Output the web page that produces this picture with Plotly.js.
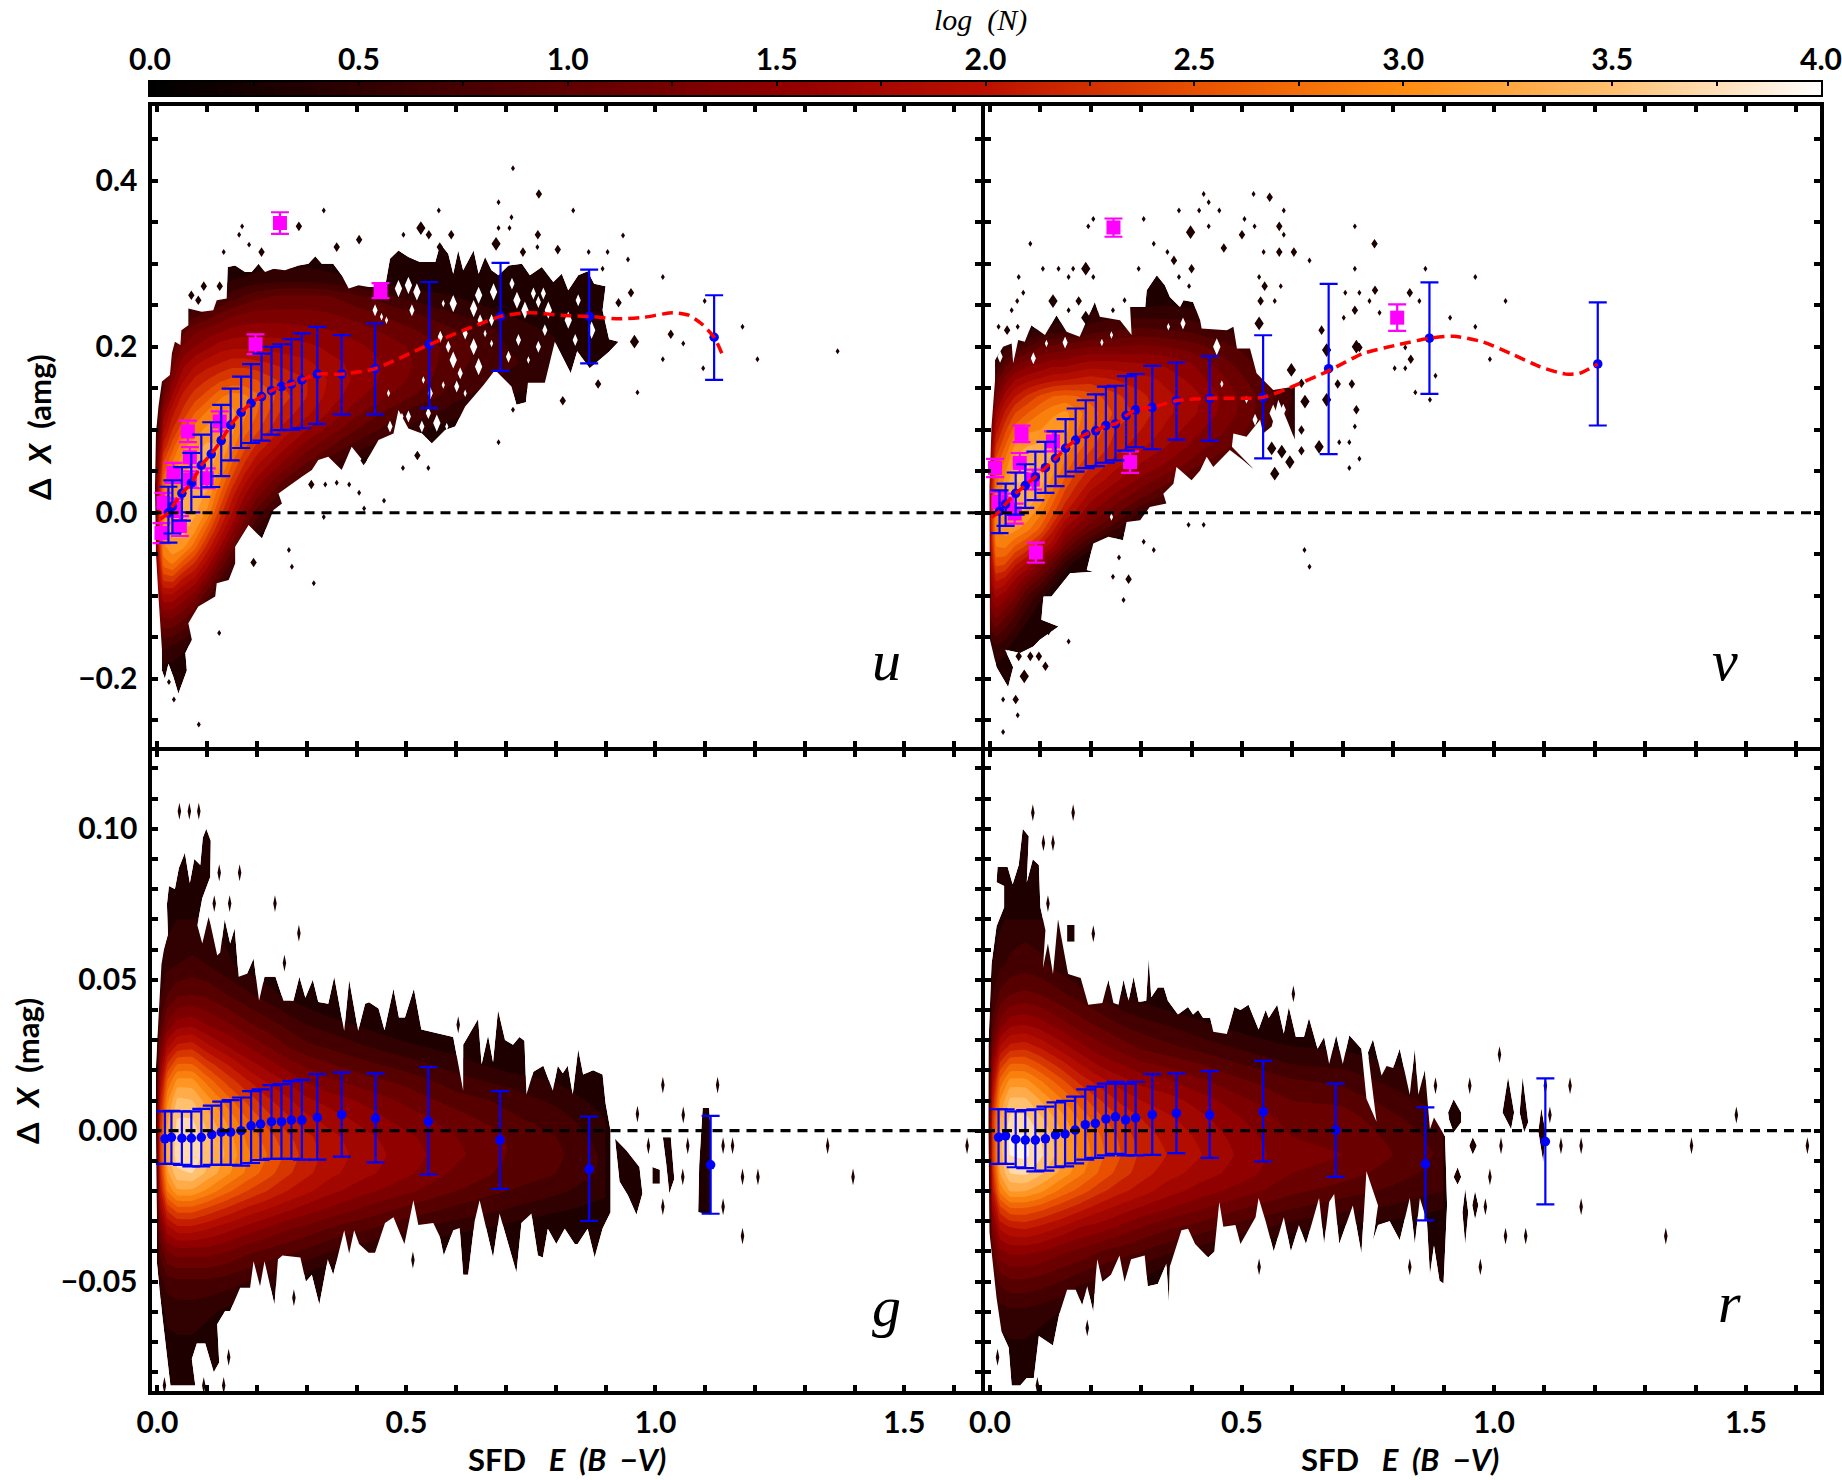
<!DOCTYPE html>
<html><head><meta charset="utf-8">
<script src="https://cdn.plot.ly/plotly-3.0.1.min.js"></script>
<style>html,body{margin:0;padding:0;background:#fff}</style></head><body>
<div id="chart" style="width:1842px;height:1480px"></div>
<script>
// ---------- binned medians with dispersion ----------
var uBinX=[.022,.030,.049,.068,.088,.108,.128,.147,.168,.188,.209,.229,.249,.269,.29,.321,.37,.437,.546,.689,.867,1.118];
var uBinY=[0,.0076,.0234,.0356,.0572,.0707,.087,.1057,.1209,.132,.140,.147,.152,.155,.160,.167,.167,.1735,.2026,.2365,.2365,.2114];
var uBinTop=[.0313,.039,.055,.072,.094,.109,.130,.1495,.164,.179,.1916,.200,.203,.209,.216,.224,.214,.228,.278,.301,.293,.262];
var uBinBot=[-.036,-.025,-.0096,.0004,.019,.031,.044,.063,.078,.084,.087,.094,.0996,.100,.102,.107,.1186,.1186,.126,.171,.180,.160];
var vBinX=[.019,.031,.051,.070,.090,.110,.130,.15,.17,.19,.21,.23,.249,.27,.289,.322,.370,.436,.542,.672,.872,1.206];
var vBinY=[.0018,.0105,.0234,.0327,.0432,.0543,.0654,.0777,.0876,.0946,.0987,.105,.107,.117,.124,.127,.135,.138,.139,.1735,.2103,.1793];
var vBinTop=[.0269,.035,.0485,.0584,.0736,.0853,.098,.1127,.1256,.1355,.1425,.1519,.153,.1647,.167,.177,.181,.1887,.2138,.2757,.2775,.2535];
var vBinBot=[-.0245,-.0158,-.0023,.0058,.0152,.024,.0321,.0438,.0496,.0537,.0561,.0602,.0631,.0748,.0789,.0765,.0882,.087,.0654,.0707,.1431,.1051];
var gBinX=[.015,.028,.049,.068,.088,.109,.128,.147,.168,.188,.207,.229,.249,.269,.29,.321,.37,.438,.544,.688,.867,1.111];
var gBinY=[-.0027,-.0022,-.0025,-.0025,-.0022,-.0013,-.0005,-.0005,0,.0016,.0022,.003,.003,.0035,.0035,.0044,.0053,.0041,.0031,-.0031,-.0127,-.0113];
var gBinTop=[.0064,.0066,.0064,.0064,.0072,.0083,.0096,.0101,.011,.0131,.0137,.0151,.0154,.0164,.0168,.0187,.0193,.019,.0211,.0131,.0047,.0049];
var gBinBot=[-.011,-.011,-.0113,-.0118,-.0118,-.0113,-.0113,-.0113,-.0116,-.0107,-.0097,-.0093,-.0093,-.0093,-.0096,-.0096,-.0086,-.0105,-.0145,-.0193,-.0299,-.0275];
var rBinX=[.017,.031,.051,.07,.09,.11,.13,.149,.169,.189,.209,.23,.249,.269,.289,.322,.37,.436,.542,.686,.864,1.102];
var rBinY=[-.0022,-.0017,-.0028,-.0031,-.0031,-.0027,-.0014,-.0011,.0002,.002,.0024,.0039,.0046,.0036,.0042,.0053,.0058,.0052,.0063,.0002,-.011,-.0036];
var rBinTop=[.0071,.0071,.0064,.0068,.0071,.008,.0094,.0099,.0113,.0137,.0146,.0156,.0162,.0156,.0162,.0187,.019,.0197,.0231,.0156,.0077,.0173];
var rBinBot=[-.011,-.011,-.0121,-.0124,-.0135,-.0132,-.0121,-.0118,-.0108,-.0096,-.009,-.0082,-.0077,-.0082,-.0082,-.008,-.0074,-.009,-.0102,-.0153,-.0297,-.0244];
// ---------- fitted curves ----------
var uFitX=[.005,.022,.03,.049,.068,.088,.108,.128,.147,.168,.188,.209,.229,.249,.269,.29,.321,.37,.437,.546,.689,.747,.81,.867,.926,.977,1.035,1.067,1.092,1.118,1.137];
var uFitY=[-.008,0,.0076,.0234,.0356,.0572,.0707,.087,.1057,.1209,.132,.140,.147,.152,.155,.160,.167,.167,.1735,.2026,.2365,.241,.238,.2365,.2336,.2354,.241,.238,.228,.2114,.187];
var vFitX=[.003,.019,.031,.051,.07,.09,.11,.13,.15,.17,.19,.21,.23,.249,.27,.289,.322,.37,.436,.542,.602,.672,.739,.807,.872,.92,.977,1.034,1.091,1.142,1.17,1.206];
var vFitY=[-.006,.0018,.0105,.0234,.0327,.0432,.0543,.0654,.0777,.0876,.0946,.0987,.105,.107,.117,.124,.127,.135,.138,.139,.1525,.171,.1916,.202,.2103,.2126,.206,.1916,.176,.167,.168,.1793];
// ---------- star clusters (x, y, error) ----------
var uStars=[[.246,.349,.013],[.448,.2675,.009],[.197,.203,.012],[.061,.098,.013],[.125,.110,.012],[.065,.067,.012],[.032,.048,.012],[.099,.0415,.012],[.065,.040,.01],[.012,.012,.012],[.035,.006,.011],[.045,-.016,.012],[.008,-.0245,.012]];
var vStars=[[.245,.3435,.011],[.808,.235,.016],[.278,.061,.013],[.0625,.095,.01],[.091,-.048,.012],[.010,.054,.011],[.125,.086,.012],[.059,.060,.012],[.085,.040,.012],[.017,.013,.012],[.049,-.001,.012],[.034,.011,.012]];
// ---------- outermost density contour ----------
var uEdge=[[-.003,-.049],[-.005,.031],[-.003,.096],[.002,.128],[.009,.158],[.025,.166],[.029,.192],[.035,.206],[.046,.202],[.048,.220],[.062,.226],[.062,.246],[.089,.242],[.112,.244],[.119,.256],[.139,.258],[.141,.296],[.156,.298],[.176,.290],[.189,.290],[.203,.300],[.216,.290],[.233,.294],[.256,.292],[.283,.298],[.303,.300],[.317,.309],[.330,.300],[.353,.300],[.370,.286],[.384,.270],[.404,.274],[.424,.272],[.457,.272],[.467,.306],[.484,.316],[.504,.308],[.527,.302],[.558,.302],[.568,.324],[.584,.312],[.594,.288],[.604,.316],[.614,.292],[.635,.316],[.645,.288],[.658,.308],[.671,.292],[.685,.286],[.705,.298],[.732,.300],[.748,.286],[.772,.296],[.795,.278],[.812,.288],[.825,.268],[.845,.286],[.864,.291],[.877,.276],[.900,.273],[.894,.244],[.907,.209],[.926,.206],[.907,.194],[.868,.174],[.843,.1945],[.830,.168],[.798,.206],[.778,.1565],[.744,.1565],[.740,.133],[.721,.130],[.711,.152],[.678,.172],[.655,.154],[.618,.128],[.598,.104],[.578,.0996],[.551,.0835],[.531,.0956],[.504,.1016],[.484,.1237],[.474,.0956],[.444,.0876],[.417,.0594],[.390,.0795],[.370,.0514],[.343,.0675],[.323,.0635],[.31,.0514],[.29,.0434],[.256,.0293],[.243,.0233],[.25,.0112],[.233,.0032],[.21,-.031],[.183,-.0149],[.156,-.041],[.156,-.061],[.143,-.081],[.119,-.085],[.116,-.101],[.082,-.113],[.062,-.133],[.069,-.153],[.056,-.169],[.059,-.19],[.042,-.218],[.032,-.198],[.022,-.182],[.015,-.20],[.009,-.19],[.009,-.165],[.002,-.101]];
var vEdge=[[0,-.153],[-.001,-.049],[-.001,.031],[.003,.104],[.01,.16],[.01,.184],[.026,.2],[.043,.204],[.046,.18],[.056,.208],[.069,.206],[.082,.226],[.109,.214],[.132,.238],[.152,.218],[.178,.212],[.208,.254],[.218,.236],[.258,.232],[.281,.214],[.278,.248],[.308,.248],[.311,.268],[.331,.286],[.347,.274],[.357,.26],[.377,.248],[.384,.256],[.403,.254],[.417,.232],[.42,.222],[.47,.22],[.483,.224],[.49,.198],[.516,.198],[.529,.168],[.562,.148],[.605,.152],[.605,.0876],[.589,.112],[.572,.136],[.559,.104],[.542,.0956],[.536,.112],[.509,.0916],[.483,.0956],[.48,.0795],[.526,.051],[.503,.063],[.476,.0755],[.443,.055],[.43,.0675],[.417,.051],[.40,.039],[.37,.055],[.364,.035],[.344,.023],[.35,.011],[.317,.007],[.298,-.009],[.271,-.011],[.264,-.033],[.235,-.029],[.205,-.037],[.192,-.069],[.205,-.071],[.159,-.073],[.122,-.101],[.106,-.101],[.102,-.129],[.136,-.137],[.099,-.153],[.086,-.161],[.06,-.169],[.03,-.165],[.046,-.186],[.036,-.21],[.013,-.186],[.007,-.169]];
var gEdge=[[-.003,0],[-.003,.021],[-.001,.028],[.008,.055],[.013,.060],[.021,.065],[.019,.075],[.023,.081],[.035,.080],[.043,.087],[.055,.092],[.065,.082],[.074,.090],[.086,.088],[.091,.097],[.098,.100],[.107,.096],[.106,.084],[.090,.077],[.080,.068],[.090,.062],[.103,.071],[.120,.058],[.126,.059],[.135,.070],[.146,.062],[.155,.067],[.163,.051],[.180,.052],[.193,.057],[.204,.043],[.215,.051],[.237,.051],[.253,.043],[.273,.043],[.285,.051],[.297,.044],[.312,.050],[.323,.0426],[.343,.042],[.355,.051],[.375,.033],[.385,.050],[.403,.033],[.417,.042],[.425,.0425],[.444,.0405],[.456,.0333],[.474,.047],[.485,.0375],[.497,.0375],[.515,.047],[.530,.0335],[.594,.031],[.614,.0132],[.614,.0285],[.644,.037],[.651,.022],[.664,.0315],[.674,.0227],[.684,.040],[.698,.030],[.714,.0285],[.727,.031],[.737,.0298],[.741,.012],[.755,.0195],[.775,.0215],[.794,.0132],[.804,.0215],[.814,.019],[.824,.0215],[.834,.012],[.845,.027],[.855,.0186],[.875,.020],[.894,.0186],[.90,.0091],[.91,0],[.91,-.027],[.894,-.0324],[.878,-.042],[.864,-.0325],[.844,-.0375],[.838,-.0375],[.818,-.0325],[.801,-.0375],[.784,-.0325],[.774,-.042],[.764,-.0413],[.751,-.0274],[.731,-.0306],[.721,-.047],[.687,-.0274],[.674,-.042],[.647,-.023],[.637,-.030],[.624,-.0477],[.614,-.0477],[.607,-.0322],[.594,-.033],[.575,-.0413],[.567,-.035],[.554,-.0306],[.524,-.0312],[.514,-.023],[.496,-.0375],[.474,-.0287],[.457,-.0306],[.437,-.0404],[.424,-.0404],[.405,-.0375],[.395,-.033],[.385,-.0407],[.375,-.033],[.353,-.0477],[.342,-.0426],[.325,-.0576],[.310,-.0477],[.298,-.050],[.287,-.042],[.251,-.0413],[.242,-.0426],[.235,-.0576],[.215,-.0432],[.206,-.0515],[.193,-.0432],[.186,-.052],[.166,-.052],[.146,-.0597],[.136,-.0597],[.120,-.0641],[.124,-.0768],[.113,-.080],[.096,-.0705],[.079,-.0705],[.069,-.0756],[.076,-.0844],[.026,-.0844],[.009,-.0603],[-.001,-.0439],[-.001,-.030],
null,[.919,-.0027],[.942,-.0066],[.968,-.012],[.974,-.0208],[.962,-.0278],[.945,-.0215],[.928,-.0168],
null,[.994,-.012],[1.009,-.0129],[1.009,-.0176],[.994,-.0176],
null,[1.015,-.0022],[1.031,-.0022],[1.038,-.016],[1.028,-.0208],[1.022,-.0113],
null,[1.095,.0075],[1.108,.0075],[1.111,-.0003],[1.111,-.0278],[1.086,-.027],[1.088,-.0113]];
var rEdge=[[-.003,0],[-.003,.0284],[.003,.055],[.013,.0677],[.028,.074],[.028,.081],[.013,.0823],[.015,.0873],[.035,.0873],[.045,.0816],[.057,.088],[.065,.100],[.077,.0975],[.073,.0823],[.085,.0899],[.097,.088],[.10,.074],[.11,.0664],[.105,.0538],[.115,.062],[.125,.0519],[.135,.07],[.155,.0519],[.18,.0506],[.195,.0417],[.223,.0423],[.235,.05],[.245,.0423],[.255,.0417],[.265,.05],[.275,.043],[.285,.051],[.295,.0426],[.31,.043],[.315,.057],[.32,.0442],[.333,.0474],[.345,.0474],[.353,.043],[.373,.0385],[.393,.041],[.403,.0385],[.413,.04],[.423,.0373],[.437,.0373],[.443,.0328],[.47,.032],[.485,.041],[.497,.04],[.513,.0417],[.533,.0335],[.547,.04],[.553,.0373],[.57,.0417],[.583,.0322],[.593,.041],[.607,.031],[.623,.031],[.633,.0373],[.65,.0271],[.663,.031],[.673,.0221],[.687,.0316],[.70,.0221],[.713,.0316],[.737,.0271],[.747,.0106],[.767,.003],[.75,.0259],[.76,.0303],[.777,.0183],[.787,.0214],[.80,.0208],[.813,.0271],[.833,.0119],[.843,.0271],[.85,.0119],[.863,.0202],[.873,.0005],[.881,.0044],[.903,-.0019],[.907,-.0247],[.9,-.0506],[.892,-.0497],[.881,-.038],[.873,-.0477],[.867,-.03],[.853,-.0223],[.843,-.0375],[.833,-.0223],[.813,-.0363],[.793,-.03],[.77,-.0312],[.76,-.0363],[.77,-.0248],[.747,-.0134],[.737,-.0407],[.72,-.0248],[.693,-.0375],[.683,-.021],[.673,-.0236],[.663,-.0375],[.653,-.0223],[.627,-.0375],[.613,-.0312],[.597,-.04],[.583,-.0287],[.563,-.04],[.547,-.03],[.533,-.0223],[.527,-.0287],[.497,-.0375],[.487,-.0312],[.463,-.0318],[.455,-.0236],[.445,-.04],[.433,-.042],[.407,-.0375],[.393,-.0325],[.38,-.033],[.357,-.045],[.355,-.057],[.35,-.044],[.333,-.0508],[.313,-.0515],[.307,-.0413],[.28,-.0426],[.267,-.05],[.257,-.0413],[.24,-.0477],[.223,-.05],[.213,-.0426],[.21,-.0477],[.205,-.06],[.193,-.0515],[.183,-.0578],[.17,-.0527],[.153,-.0527],[.137,-.061],[.125,-.0711],[.097,-.068],[.087,-.0819],[.073,-.0819],[.06,-.0844],[.043,-.0844],[.037,-.0718],[.023,-.0667],[.013,-.0553],[-.001,-.0337],
null,[.153,.0681],[.168,.0681],[.168,.0626],[.153,.0626],
null,[.909,.006],[.92,.0104],[.935,.006],[.935,.0028],[.92,-.0006],[.911,.0036],
null,[.951,-.005],[.958,-.0022],[.966,-.005],[.958,-.0079],
null,[.92,-.0153],[.928,-.0121],[.935,-.0153],[.928,-.0179],
null,[.9375,-.027],[.943,-.0192],[.949,-.027],[.943,-.0377],
null,[.957,-.0247],[.9625,-.02],[.969,-.0247],[.9625,-.0294],
null,[1.017,.006],[1.028,.0178],[1.04,.006],[1.034,.0005],
null,[1.051,.006],[1.057,.0178],[1.068,.0028],[1.06,-.0006],
null,[1.088,-.0003],[1.094,.0075],[1.102,-.0003],[1.098,-.0105]];
// ---------- isolated low-count cells (x, y, cell multiple) ----------
var uSpecks=[[.082,.256,2],[.068,.262,2],[.714,.415,1],[.766,.384,2],[.685,.374,1],[.835,.364,1],[.711,.356,1],[.685,.343,1],[.707,.343,1],[.764,.335,2],[.935,.334,1],[.680,.324,3],[.763,.320,1],[.734,.314,2],[.804,.317,2],[.866,.314,1],[.904,.314,1],[.945,.305,1],[.894,.294,1],[.334,.364,1],[.284,.345,2],[.170,.345,1],[.164,.335,1],[.184,.323,1],[.133,.314,1],[.209,.314,2],[.093,.273,2],[.125,.273,2],[.36,.32,2],[.405,.329,2],[.494,.335,1],[.529,.343,3],[.565,.364,1],[.545,.335,2],[.59,.335,2],[.567,.32,2],[1.015,.284,1],[.951,.265,2],[.926,.253,2],[1.099,.255,1],[1.175,.224,1],[1.366,.1945,1],[1.031,.215,2],[1.056,.204,1],[1.015,.185,1],[1.096,.174,1],[1.205,.185,1],[.964,.145,1],[.885,.155,2],[.814,.135,2],[.714,.124,1],[.685,.085,1],[.958,.206,3],[.493,.054,1],[.544,.054,1],[.522,.069,2],[.414,.063,2],[.385,.034,1],[.36,.036,1],[.337,.034,1],[.309,.034,2],[.405,.024,1],[.455,.0146,1],[.415,.005,1],[.334,-.005,1],[.264,-.045,1],[.27,-.065,1],[.314,-.085,1],[.193,-.06,2],[.124,-.145,1],[.083,-.255,1],[.033,-.225,1],[.023,-.204,1]];
var vSpecks=[[.424,.384,1],[.434,.374,1],[.523,.384,1],[.555,.38,2],[.415,.364,1],[.455,.364,1],[.375,.364,1],[.583,.364,1],[.505,.354,1],[.525,.345,1],[.434,.345,1],[.574,.345,2],[.583,.335,1],[.398,.338,3],[.5,.335,2],[.724,.345,1],[.763,.324,2],[.08,.324,1],[.464,.319,2],[.574,.314,2],[.603,.314,2],[.325,.324,1],[.352,.314,1],[.543,.314,1],[.365,.304,2],[.634,.304,1],[.305,.354,1],[.205,.354,1],[.195,.345,1],[.4,.294,2],[.295,.294,1],[.19,.294,3],[.165,.294,1],[.136,.294,1],[.105,.294,1],[.057,.284,1],[.156,.284,1],[.205,.284,1],[.375,.284,1],[.395,.273,1],[.724,.294,1],[.864,.294,1],[.963,.284,1],[.534,.284,1],[.545,.273,2],[.577,.273,1],[.066,.265,1],[.054,.255,1],[.043,.244,1],[.125,.255,3],[.176,.255,2],[.156,.244,1],[.19,.235,3],[.244,.244,1],[.267,.256,1],[.537,.255,2],[.565,.255,1],[.705,.265,1],[.733,.265,1],[.764,.268,2],[.753,.255,1],[.833,.265,2],[.852,.255,1],[1.023,.255,1],[.773,.241,1],[.724,.244,2],[.913,.235,1],[.963,.224,1],[.534,.228,3],[.702,.235,1],[.017,.224,1],[.034,.22,2],[.055,.224,1],[.733,.199,2],[.824,.199,1],[.992,.185,1],[.835,.185,2],[.803,.174,1],[.824,.174,1],[.884,.165,1],[.844,.145,1],[.873,.136,1],[.69,.155,2],[.718,.155,2],[.727,.124,2],[.724,.104,1],[.693,.085,1],[.713,.085,1],[.733,.065,1],[.713,.054,1],[.624,-.045,1],[.634,-.065,1],[.394,-.0146,1],[.424,-.0146,1],[.305,-.035,1],[.325,-.045,1],[.256,-.054,1],[.244,-.077,1],[.275,-.08,2],[.265,-.105,1],[.156,-.155,1],[.116,-.144,1],[.057,-.173,2],[.08,-.173,2],[.097,-.173,2],[.11,-.185,2],[.068,-.197,3],[.026,-.225,1],[.051,-.225,2],[.055,-.244,1],[.026,-.264,1],[.618,.0996,2],[.625,.134,3],[.618,.156,2],[.598,.172,3],[.559,.0775,3],[.579,.0735,3],[.618,.0747,2],[.595,.061,3],[.565,.047,3],[.653,.0795,3],[.668,.136,3],[.668,.196,3],[.727,.2,3],[.658,.22,2]];
var gSpecks=[[.044,.1058],[.064,.1058],[.083,.1058],[.124,.0854],[.165,.0854],[.114,.0752],[.145,.0752],[.236,.0752],[.284,.0654],[.255,.0555],[.604,.0351],[1.015,.0151],[1.125,.0151],[.964,.0055],[1.056,.0052],[.986,-.005],[1.065,-.005],[1.136,-.005],[1.155,-.005],[1.346,-.005],[1.626,-.005],[1.055,-.0153],[1.175,-.0153],[1.206,-.0153],[1.397,-.0153],[1.015,-.0252],[1.136,-.0252],[1.175,-.0349],[.513,-.0428],[.274,-.0553],[.143,-.075],[.014,-.0844],[.093,-.0844],[.133,-.0844]];
var rSpecks=[[.085,.1053],[.165,.1053],[.106,.0953],[.125,.0953],[.115,.0752],[.205,.0652],[.602,.0453],[1.011,.0252],[.952,.0149],[.884,.0149],[1.151,.0149],[1.102,.0149],[1.111,.0052],[1.481,.0052],[1.014,-.005],[1.133,-.005],[1.173,-.005],[1.392,-.005],[1.622,-.005],[.992,-.0153],[.983,-.0252],[1.173,-.0252],[1.341,-.0349],[1.023,-.0349],[1.063,-.0349],[.534,-.0451],[.833,-.0451],[.973,-.0451],[.193,-.0653],[.015,-.075],[.094,-.0844]];
// ---------- empty cells inside the outer contour ----------
var uGaps=[[.504,.274,3],[.484,.27,3],[.521,.266,3],[.511,.244,2],[.437,.244,2],[.45,.236,1],[.46,.232,1],[.464,.144,1],[.467,.104,2],[.574,.252,1],[.594,.252,3],[.645,.262,3],[.675,.266,3],[.635,.246,3],[.648,.232,2],[.671,.232,2],[.712,.276,2],[.722,.256,3],[.755,.264,2],[.775,.264,2],[.765,.254,2],[.738,.244,3],[.785,.244,3],[.825,.232,3],[.778,.22,2],[.845,.256,2],[.872,.22,3],[.839,.208,2],[.618,.216,2],[.568,.212,2],[.584,.2,2],[.594,.184,3],[.608,.168,2],[.658,.216,1],[.635,.2,3],[.671,.204,1],[.725,.208,2],[.705,.188,2],[.765,.2,2],[.745,.184,1],[.645,.176,3],[.618,.144,1],[.601,.152,2],[.574,.154,1],[.534,.16,1],[.548,.144,2],[.544,.12,2],[.561,.108,3],[.581,.104,1],[.531,.104,2],[.504,.116,2],[.491,.116,1]];
var vGaps=[[.45,.2,3],[.383,.228,2],[.354,.224,1],[.241,.214,1],[.112,.204,1],[.149,.205,2],[.222,.205,1],[.086,.186,2],[.02,.188,2],[.562,.12,3],[.582,.124,2],[.509,.136,1],[.46,.155,1],[.241,-.005,1],[.526,.112,2]];
// ---------- density surfaces, log N ----------
var bandColX=[-.01,.003,.012,.03,.05,.075,.1,.125,.15,.175,.2,.25,.3,.35,.4,.5,.6,.7,.8];
var bandRowY=[.30,.28,.26,.24,.22,.20,.18,.16,.14,.12,.10,.08,.06,.04,.02,0,-.02,-.04,-.06,-.08,-.10,-.13,-.16,-.20];
var uDensity=[
[0,0,0,0,0,0,0,0,.1,.2,.3,.35,.35,.3,.2,.1,0,0,0],
[0,0,0,0,0,.1,.2,.3,.4,.45,.5,.55,.55,.5,.4,.3,.2,.1,0],
[0,0,0,0,.2,.4,.45,.55,.7,.85,.95,1.05,1.05,1,.85,.55,.4,.2,0],
[0,0,0,.2,.5,.7,.85,1,1.15,1.2,1.25,1.25,1.25,1.2,1.1,.85,.6,.4,.2],
[0,0,.2,.5,.9,1.15,1.25,1.35,1.45,1.5,1.5,1.5,1.45,1.4,1.3,1.05,.8,.55,.35],
[0,0,.4,.85,1.2,1.4,1.55,1.7,1.75,1.75,1.75,1.7,1.65,1.55,1.45,1.2,.9,.6,.45],
[0,.1,.5,1.1,1.5,1.75,1.9,2,2.1,2.1,2.05,1.95,1.85,1.65,1.55,1.25,.85,.65,.45],
[0,.3,.8,1.35,1.75,2.05,2.2,2.35,2.45,2.45,2.4,2.15,2,1.75,1.55,1.2,.8,.55,.4],
[0,.5,1.1,1.65,2.05,2.3,2.5,2.75,2.9,2.85,2.65,2.3,2,1.7,1.45,1.05,.65,.4,.2],
[0,.8,1.5,1.95,2.25,2.6,2.85,3,3.05,2.85,2.6,2.15,1.85,1.55,1.25,.75,.5,.25,0],
[0,1,1.75,2.2,2.55,2.9,3.05,3.15,3.05,2.7,2.45,1.95,1.6,1.3,1,.55,.2,0,0],
[0,1.3,2.05,2.5,2.95,3.1,3.25,3.2,2.9,2.45,2.15,1.7,1.3,1,.7,.3,0,0,0],
[0,1.6,2.4,2.8,3.1,3.25,3.3,3.1,2.6,2.2,1.85,1.4,1,.65,.35,0,0,0,0],
[0,1.85,2.65,3,3.2,3.3,3.3,2.85,2.35,1.9,1.55,1.05,.65,.3,0,0,0,0,0],
[0,2,2.85,3.1,3.3,3.3,3.15,2.6,2.05,1.6,1.25,.7,.3,0,0,0,0,0,0],
[0,2.1,2.95,3.2,3.35,3.25,2.95,2.3,1.8,1.3,.9,.35,0,0,0,0,0,0,0],
[0,2.1,3,3.25,3.3,3.05,2.55,2,1.5,1,.55,.1,0,0,0,0,0,0,0],
[0,2.1,2.95,3.15,3.1,2.7,2.15,1.65,1.1,.65,.2,0,0,0,0,0,0,0,0],
[0,1.9,2.7,2.85,2.55,2.2,1.75,1.2,.75,.3,0,0,0,0,0,0,0,0,0],
[0,1.7,2.25,2.3,2,1.75,1.3,.8,.4,0,0,0,0,0,0,0,0,0,0],
[0,1.45,1.75,1.75,1.55,1.3,.85,.5,.1,0,0,0,0,0,0,0,0,0,0],
[0,1,1.15,1.15,1,.75,.4,.1,0,0,0,0,0,0,0,0,0,0,0],
[0,.5,.65,.6,.5,.3,.1,0,0,0,0,0,0,0,0,0,0,0,0],
[0,.1,.2,.2,.1,0,0,0,0,0,0,0,0,0,0,0,0,0,0]];
var vDensity=[
[0,0,0,0,0,0,0,0,0,0,0,0,0,0,0,0,0,0,0],
[0,0,0,0,0,0,0,0,0,0,0,.1,.1,.1,.1,0,0,0,0],
[0,0,0,0,0,0,0,0,0,0,0,.2,.2,.3,.2,0,0,0,0],
[0,0,0,0,0,0,.1,.2,.3,.4,.45,.5,.5,.5,.5,.3,0,0,0],
[0,0,0,.2,.3,.4,.45,.5,.55,.55,.7,.8,.85,.8,.75,.5,.2,0,0],
[0,0,.2,.5,.6,.8,1,1.05,1.1,1.15,1.2,1.2,1.25,1.2,1.1,.75,.3,0,0],
[0,.1,.5,.9,1.15,1.3,1.4,1.5,1.5,1.6,1.65,1.65,1.6,1.55,1.4,.9,.45,0,0],
[0,.3,.9,1.3,1.6,1.75,1.85,1.95,2,2.05,2.1,2,1.9,1.75,1.55,1.05,.5,0,0],
[0,.6,1.2,1.7,2,2.25,2.45,2.6,2.65,2.6,2.5,2.25,2.05,1.85,1.7,1.15,.6,0,0],
[0,.9,1.6,2.05,2.4,2.6,2.8,2.95,3.05,2.85,2.7,2.35,2.1,1.85,1.65,1.15,.55,0,0],
[0,1.2,1.9,2.35,2.7,2.95,3,3.15,3.05,2.8,2.6,2.2,2,1.75,1.5,1.05,.45,0,0],
[0,1.5,2.2,2.6,3.05,3.2,3.25,3.25,2.95,2.7,2.45,2.1,1.85,1.6,1.35,.9,.3,0,0],
[0,1.75,2.5,2.85,3.3,3.4,3.35,3.1,2.75,2.45,2.25,1.9,1.6,1.4,1.15,.6,.1,0,0],
[0,1.95,2.7,3.05,3.4,3.45,3.3,2.95,2.55,2.25,2,1.65,1.35,1.1,.75,.3,0,0,0],
[0,2.1,2.85,3.2,3.35,3.35,3.15,2.7,2.3,2,1.7,1.35,1.05,.75,.4,0,0,0,0],
[0,2.2,2.95,3.2,3.2,3.15,2.85,2.45,2,1.7,1.4,1.05,.6,.3,.1,0,0,0,0],
[0,2.15,2.95,3.1,3.05,2.85,2.55,2.05,1.55,1.3,1.05,.6,.2,0,0,0,0,0,0],
[0,2.05,2.8,2.85,2.6,2.35,2,1.65,1.15,.8,.5,.2,0,0,0,0,0,0,0],
[0,1.85,2.5,2.45,2.1,1.8,1.4,1.05,.6,.3,.1,0,0,0,0,0,0,0,0],
[0,1.65,2.05,1.95,1.6,1.25,.95,.55,.2,0,0,0,0,0,0,0,0,0,0],
[0,1.45,1.65,1.5,1.25,.8,.5,.2,0,0,0,0,0,0,0,0,0,0,0],
[0,1,1.15,.95,.7,.4,.1,0,0,0,0,0,0,0,0,0,0,0,0],
[0,.5,.6,.5,.3,.1,0,0,0,0,0,0,0,0,0,0,0,0,0],
[0,.1,.2,.2,.1,0,0,0,0,0,0,0,0,0,0,0,0,0,0]];
var lowColX=[-.005,.005,.02,.04,.07,.10,.14,.18,.22,.26,.30,.35,.42,.5,.6,.7,.8,.9];
var lowRowY=[.07,.055,.045,.035,.028,.022,.016,.01,.004,-.002,-.008,-.014,-.02,-.026,-.032,-.04,-.05,-.06,-.075];
var gDensity=[
[0,.2,.3,.4,.4,.4,.3,.2,.1,0,0,0,0,0,0,0,0,0],
[0,.4,.55,.6,.65,.6,.45,.3,.2,.1,0,0,0,0,0,0,0,0],
[0,.55,.8,.95,1,.95,.8,.65,.5,.35,.25,.1,0,0,0,0,0,0],
[0,.8,1.25,1.5,1.55,1.4,1.25,1.05,.9,.75,.6,.5,.35,.2,0,0,0,0],
[0,1.1,1.75,2.05,2.1,1.85,1.6,1.4,1.2,1,.85,.75,.6,.45,.3,.1,0,0],
[0,1.4,2.2,2.6,2.6,2.3,2,1.7,1.5,1.3,1.15,1,.85,.7,.5,.3,.2,0],
[0,1.7,2.65,3.1,3.1,2.75,2.35,2.05,1.8,1.6,1.4,1.25,1.1,.95,.7,.55,.4,.2],
[0,1.95,2.95,3.45,3.4,3.1,2.7,2.35,2.05,1.85,1.65,1.5,1.35,1.15,.9,.75,.55,.3],
[0,2.1,3.15,3.6,3.6,3.3,2.95,2.6,2.3,2.05,1.85,1.7,1.5,1.3,1.1,.85,.7,.4],
[0,2.2,3.25,3.7,3.72,3.45,3.1,2.75,2.5,2.25,2.05,1.85,1.65,1.45,1.2,1,.8,.5],
[0,2.2,3.3,3.72,3.75,3.5,3.15,2.85,2.6,2.35,2.1,1.9,1.7,1.5,1.25,1,.85,.55],
[0,2.1,3.15,3.55,3.6,3.35,3.05,2.75,2.5,2.25,2.05,1.85,1.65,1.45,1.15,.95,.8,.55],
[0,1.9,2.8,3.15,3.15,2.95,2.65,2.4,2.2,2,1.85,1.65,1.45,1.25,1,.8,.65,.45],
[0,1.55,2.25,2.5,2.5,2.35,2.15,1.95,1.8,1.65,1.5,1.35,1.15,.95,.75,.6,.45,.3],
[0,1.2,1.75,1.95,1.95,1.85,1.7,1.55,1.4,1.25,1.15,1,.85,.65,.5,.35,.2,.1],
[0,.85,1.2,1.3,1.3,1.3,1.2,1.05,.95,.85,.75,.6,.45,.3,.15,0,0,0],
[0,.5,.7,.75,.75,.75,.7,.6,.5,.4,.25,.1,0,0,0,0,0,0],
[0,.3,.45,.5,.5,.45,.35,.2,.1,0,0,0,0,0,0,0,0,0],
[0,.15,.3,.3,.3,.2,0,0,0,0,0,0,0,0,0,0,0,0]];
var rDensity=[
[0,.25,.35,.45,.5,.45,.4,.2,.1,0,0,0,0,0,0,0,0,0],
[0,.4,.55,.65,.7,.65,.5,.35,.2,.1,0,0,0,0,0,0,0,0],
[0,.6,.85,1,1.05,1,.85,.7,.55,.4,.3,.2,.1,0,0,0,0,0],
[0,.85,1.3,1.55,1.6,1.5,1.3,1.1,.95,.8,.7,.6,.45,.3,.15,.1,0,0],
[0,1.15,1.8,2.05,2.1,1.95,1.7,1.45,1.25,1.1,.95,.85,.7,.55,.4,.35,.2,0],
[0,1.45,2.25,2.6,2.6,2.4,2.1,1.8,1.55,1.4,1.25,1.15,1,.8,.6,.55,.4,.2],
[0,1.75,2.7,3.1,3.1,2.85,2.5,2.15,1.9,1.7,1.55,1.45,1.25,1.05,.85,.75,.55,.35],
[0,2,3,3.45,3.45,3.2,2.85,2.5,2.2,1.95,1.8,1.7,1.5,1.25,1,.95,.7,.5],
[0,2.2,3.2,3.65,3.65,3.45,3.1,2.75,2.45,2.2,2,1.85,1.65,1.4,1.1,1.1,.85,.6],
[0,2.25,3.3,3.8,3.82,3.6,3.25,2.9,2.6,2.35,2.1,1.95,1.75,1.5,1.2,1.15,.95,.7],
[0,2.25,3.3,3.8,3.85,3.65,3.3,2.95,2.65,2.4,2.15,2,1.8,1.55,1.25,1.2,1,.75],
[0,2.15,3.2,3.6,3.65,3.45,3.15,2.85,2.55,2.3,2.1,1.9,1.7,1.5,1.2,1.1,.9,.7],
[0,1.95,2.85,3.2,3.2,3.05,2.75,2.5,2.25,2.05,1.9,1.7,1.5,1.3,1.05,.9,.75,.6],
[0,1.6,2.3,2.55,2.55,2.45,2.25,2.05,1.85,1.7,1.55,1.4,1.2,1,.8,.65,.55,.4],
[0,1.3,1.85,2,2.05,1.95,1.8,1.6,1.5,1.35,1.2,1.05,.9,.7,.5,.35,.3,.2],
[0,.95,1.35,1.45,1.45,1.4,1.25,1.15,1,.9,.8,.65,.5,.3,.1,0,0,0],
[0,.55,.85,.95,.95,.9,.8,.65,.55,.45,.35,.15,0,0,0,0,0,0],
[0,.35,.5,.55,.55,.5,.4,.2,.1,0,0,0,0,0,0,0,0,0],
[0,.15,.25,.3,.3,.2,0,0,0,0,0,0,0,0,0,0,0,0]];
// ---------- colour bar and tick labels ----------
var barValues=[0,.25,.5,.75,1,1.25,1.5,1.75,2,2.25,2.5,2.75,3,3.25,3.5,3.75,4];
var barTicks=[0,.25,.5,.75,1,1.25,1.5,1.75,2,2.25,2.5,2.75,3,3.25,3.5,3.75,4];
var barLabels=['0.0','','0.5','','1.0','','1.5','','2.0','','2.5','','3.0','','3.5','','4.0'];
var xTicks=[0,.1,.2,.3,.4,.5,.6,.7,.8,.9,1,1.1,1.2,1.3,1.4,1.5,1.6];
var xLabels=['0.0','','','','','0.5','','','','','1.0','','','','','1.5',''];
var upTicks=[-.25,-.2,-.15,-.1,-.05,0,.05,.1,.15,.2,.25,.3,.35,.4,.45];
var upLabels=['','\u22120.2','','','','0.0','','','','0.2','','','','0.4',''];
var lowTicks=[-.08,-.07,-.06,-.05,-.04,-.03,-.02,-.01,0,.01,.02,.03,.04,.05,.06,.07,.08,.09,.10,.11,.12];
var lowLabels=['','','','\u22120.05','','','','','0.00','','','','','0.05','','','','','0.10','',''];

// ---------- page geometry ----------
var W=1842,H=1480, L=151.5,ML=981,MR=985,R=1819.5, T=106,CU=746.5,CD=750.5,B=1391;
var fx=function(p){return p/W}, fy=function(p){return 1-p/H};
var sans='Lato, "Open Sans", sans-serif', serif='"Liberation Serif", serif';
var RAMP=[[0,'#000000'],[.125,'#300000'],[.25,'#600000'],[.375,'#900000'],[.5,'#bc1000'],[.625,'#e85000'],[.75,'#ff8c10'],[.875,'#ffc070'],[1,'#ffffff']];
var zLo=.3,zHi=3.9,pos=function(z){return (z-zLo)/(zHi-zLo)};
var CONTOUR=[[0,'rgba(32,0,0,0)'],[pos(.39),'rgba(32,0,0,0)'],[pos(.4),'#280000'],[pos(1),'#600000'],[pos(1.5),'#900000'],[pos(2),'#bc1000'],[pos(2.5),'#e85000'],[pos(3),'#ff8c10'],[pos(3.5),'#ffc070'],[1,'#fff4ea']];
var CELL=[1,1,1.6,2.3];

function polyPath(list){
  var d='',start=true;
  list.forEach(function(p){
    if(p===null){d+='Z ';start=true;return;}
    d+=(start?'M':'L')+p[0]+','+p[1]+' ';start=false;
  });
  return d+'Z';
}
function kites(list,dx,dy){
  var xs=[],ys=[];
  list.forEach(function(p){
    var s=CELL[p.length>2?p[2]:1],a=dx*s,b=dy*s;
    xs.push(p[0]-a,p[0],p[0]+a,p[0],p[0]-a,null);
    ys.push(p[1],p[1]+b,p[1],p[1]-b,p[1],null);
  });
  return {x:xs,y:ys};
}
// white cover over everything outside the outer contour, so that the smooth surface takes its jagged edge
function outsideCover(edge,xr,yr){
  var rings=[[]];
  edge.forEach(function(p){ if(p===null) rings.push([]); else rings[rings.length-1].push(p); });
  var area=function(r){var a=0;r.forEach(function(p,i){var q=r[(i+1)%r.length];a+=p[0]*q[1]-q[0]*p[1];});return a;};
  var xs=[xr[0],xr[1],xr[1],xr[0],xr[0],null],ys=[yr[0],yr[0],yr[1],yr[1],yr[0],null];
  rings.forEach(function(r){
    var o=area(r)>0?r.slice().reverse():r;
    o.forEach(function(p){xs.push(p[0]);ys.push(p[1]);});
    xs.push(o[0][0],null);ys.push(o[0][1],null);
  });
  return {x:xs,y:ys};
}
function panel(o){
  var ax={xaxis:o.xa,yaxis:o.ya},out=[];
  out.push(Object.assign({type:'contour',x:o.colX,y:o.rowY,z:o.z,zmin:zLo,zmax:zHi,zauto:false,colorscale:CONTOUR,showscale:false,hoverinfo:'skip',
    autocontour:false,contours:{start:.4,end:3.8,size:.2,coloring:'fill',showlines:false},line:{width:0,smoothing:.4}},ax));
  var c=outsideCover(o.edge,o.range,o.yrange);
  out.push(Object.assign({type:'scatter',mode:'lines',x:c.x,y:c.y,fill:'toself',fillcolor:'#ffffff',line:{width:0},hoverinfo:'skip'},ax));
  if(o.gaps){var g=kites(o.gaps,o.dx*.8,o.dy*1.25);
    out.push(Object.assign({type:'scatter',mode:'lines',x:g.x,y:g.y,fill:'toself',fillcolor:'#ffffff',line:{width:0},hoverinfo:'skip'},ax));}
  var k=kites(o.specks,o.dx,o.dy);
  out.push(Object.assign({type:'scatter',mode:'lines',x:k.x,y:k.y,fill:'toself',fillcolor:'#1e0000',line:{width:0},hoverinfo:'skip'},ax));
  if(o.stars){
    out.push(Object.assign({type:'scatter',mode:'markers',x:o.stars.map(function(s){return s[0]}),y:o.stars.map(function(s){return s[1]}),
      marker:{symbol:'square',size:14,color:'#ff00ff'},
      error_y:{type:'data',array:o.stars.map(function(s){return s[2]}),color:'#ff00ff',thickness:2.2,width:9},hoverinfo:'skip'},ax));
  }
  out.push(Object.assign({type:'scatter',mode:'markers',x:o.bx,y:o.by,marker:{symbol:'circle',size:9.5,color:'#0000ff'},
    error_y:{type:'data',symmetric:false,array:o.top.map(function(t,i){return t-o.by[i]}),arrayminus:o.bot.map(function(b,i){return o.by[i]-b}),color:'#0000ff',thickness:2.2,width:9},hoverinfo:'skip'},ax));
  if(o.fx){
    out.push(Object.assign({type:'scatter',mode:'lines',x:o.fx,y:o.fy,line:{color:'#ff0000',width:3.5,dash:'11px,6px',shape:'spline',smoothing:.6},hoverinfo:'skip'},ax));
  }
  out.push(Object.assign({type:'scatter',mode:'lines',x:o.range,y:[0,0],line:{color:'#000000',width:3.2,dash:'10px,7px'},hoverinfo:'skip'},ax));
  return out;
}
var leftRange=[-.012,1.654],rightRange=[-.0099,1.646],upRange=[-.2816,.49],lowRange=[-.0862,.1259];
var data=[];
data.push({type:'heatmap',x:barValues,y:[0],z:[barValues],zmin:0,zmax:4,zsmooth:'best',colorscale:RAMP,showscale:false,xaxis:'x5',yaxis:'y5',hoverinfo:'skip'});
data=data.concat(
 panel({xa:'x',ya:'y',colX:bandColX,rowY:bandRowY,z:uDensity,edge:uEdge,yrange:upRange,gaps:uGaps,specks:uSpecks,dx:.004,dy:.0036,stars:uStars,bx:uBinX,by:uBinY,top:uBinTop,bot:uBinBot,fx:uFitX,fy:uFitY,range:leftRange}),
 panel({xa:'x2',ya:'y2',colX:bandColX,rowY:bandRowY,z:vDensity,edge:vEdge,yrange:upRange,gaps:vGaps,specks:vSpecks,dx:.004,dy:.0036,stars:vStars,bx:vBinX,by:vBinY,top:vBinTop,bot:vBinBot,fx:vFitX,fy:vFitY,range:rightRange}),
 panel({xa:'x3',ya:'y3',colX:lowColX,rowY:lowRowY,z:gDensity,edge:gEdge,yrange:lowRange,specks:gSpecks,dx:.0035,dy:.0028,bx:gBinX,by:gBinY,top:gBinTop,bot:gBinBot,range:leftRange}),
 panel({xa:'x4',ya:'y4',colX:lowColX,rowY:lowRowY,z:rDensity,edge:rEdge,yrange:lowRange,specks:rSpecks,dx:.0035,dy:.0028,bx:rBinX,by:rBinY,top:rBinTop,bot:rBinBot,range:rightRange})
);
var tickFont={family:sans,size:30,color:'#000',weight:700};
function xAxis(dom,range,labels,anchor){
  return {domain:[fx(dom[0]),fx(dom[1])],range:range,anchor:anchor,tickmode:'array',tickvals:xTicks,ticktext:xLabels,showticklabels:labels,ticks:'inside',ticklen:6,tickwidth:4,tickcolor:'#000',
    showline:true,linewidth:4,linecolor:'#000',mirror:'allticks',showgrid:false,zeroline:false,tickfont:tickFont,ticklabelstandoff:2,fixedrange:true,tickangle:0,ticklabeloverflow:'allow'};
}
function yAxis(dom,range,ticks,lab,labels,anchor){
  return {domain:[fy(dom[1]),fy(dom[0])],range:range,anchor:anchor,tickmode:'array',tickvals:ticks,ticktext:lab,showticklabels:labels,ticks:'inside',ticklen:6,tickwidth:4,tickcolor:'#000',
    showline:true,linewidth:4,linecolor:'#000',mirror:'allticks',showgrid:false,zeroline:false,tickfont:tickFont,ticklabelstandoff:4,fixedrange:true,ticklabeloverflow:'allow'};
}
function label(text,px,py,font,rot){
  return {text:text,xref:'paper',yref:'paper',x:fx(px),y:fy(py),xanchor:'center',yanchor:'middle',showarrow:false,font:font,textangle:rot||0};
}
var titleFont={family:sans,size:31,color:'#000',weight:700};
var letterFont={family:serif,size:58,color:'#000',style:'italic'};
var layout={width:W,height:H,margin:{l:0,r:0,t:0,b:0,autoexpand:false},paper_bgcolor:'#fff',plot_bgcolor:'rgba(0,0,0,0)',showlegend:false,
 xaxis:xAxis([L,ML],leftRange,false,'y'),yaxis:yAxis([T,CU],upRange,upTicks,upLabels,true,'x'),
 xaxis2:xAxis([MR,R],rightRange,false,'y2'),yaxis2:yAxis([T,CU],upRange,upTicks,upLabels,false,'x2'),
 xaxis3:xAxis([L,ML],leftRange,true,'y3'),yaxis3:yAxis([CD,B],lowRange,lowTicks,lowLabels,true,'x3'),
 xaxis4:xAxis([MR,R],rightRange,true,'y4'),yaxis4:yAxis([CD,B],lowRange,lowTicks,lowLabels,false,'x4'),
 xaxis5:{domain:[fx(150),fx(1821)],range:[0,4],anchor:'y5',side:'top',tickmode:'array',tickvals:barTicks,ticktext:barLabels,ticks:'inside',ticklen:4,tickwidth:2,tickcolor:'#000',showline:true,linewidth:2,linecolor:'#000',mirror:true,showgrid:false,zeroline:false,tickfont:tickFont,ticklabelstandoff:-2,fixedrange:true,tickangle:0,ticklabeloverflow:'allow'},
 yaxis5:{domain:[fy(95),fy(82)],range:[-.5,.5],anchor:'x5',showticklabels:false,ticks:'',showline:true,linewidth:2,linecolor:'#000',mirror:true,showgrid:false,zeroline:false,fixedrange:true},
 shapes:[
  {type:'path',layer:'below',xref:'x',yref:'y',path:polyPath(uEdge),fillcolor:'#1e0000',line:{width:0}},
  {type:'path',layer:'below',xref:'x2',yref:'y2',path:polyPath(vEdge),fillcolor:'#1e0000',line:{width:0}},
  {type:'path',layer:'below',xref:'x3',yref:'y3',path:polyPath(gEdge),fillcolor:'#1e0000',line:{width:0}},
  {type:'path',layer:'below',xref:'x4',yref:'y4',path:polyPath(rEdge),fillcolor:'#1e0000',line:{width:0}}
 ],
 annotations:[
  label('log&nbsp;&nbsp;(N)',980,20,{family:serif,size:30,color:'#000',style:'italic'}),
  label('\u0394&nbsp;&nbsp;<i>X</i>&nbsp;&nbsp;(amg)',39,427,titleFont,-90),
  label('\u0394&nbsp;&nbsp;<i>X</i>&nbsp;&nbsp;(mag)',27,1071,titleFont,-90),
  label('SFD&nbsp;&nbsp;&nbsp;<i>E&nbsp;&nbsp;(B&nbsp;&nbsp;\u2212V)</i>',567,1459,titleFont),
  label('SFD&nbsp;&nbsp;&nbsp;<i>E&nbsp;&nbsp;(B&nbsp;&nbsp;\u2212V)</i>',1400,1459,titleFont),
  label('u',886,660,letterFont),
  label('v',1725,660,letterFont),
  label('g',886,1306,letterFont),
  label('r',1729,1302,letterFont)
 ]};
Plotly.newPlot('chart',data,layout,{staticPlot:true,displayModeBar:false});
</script></body></html>
